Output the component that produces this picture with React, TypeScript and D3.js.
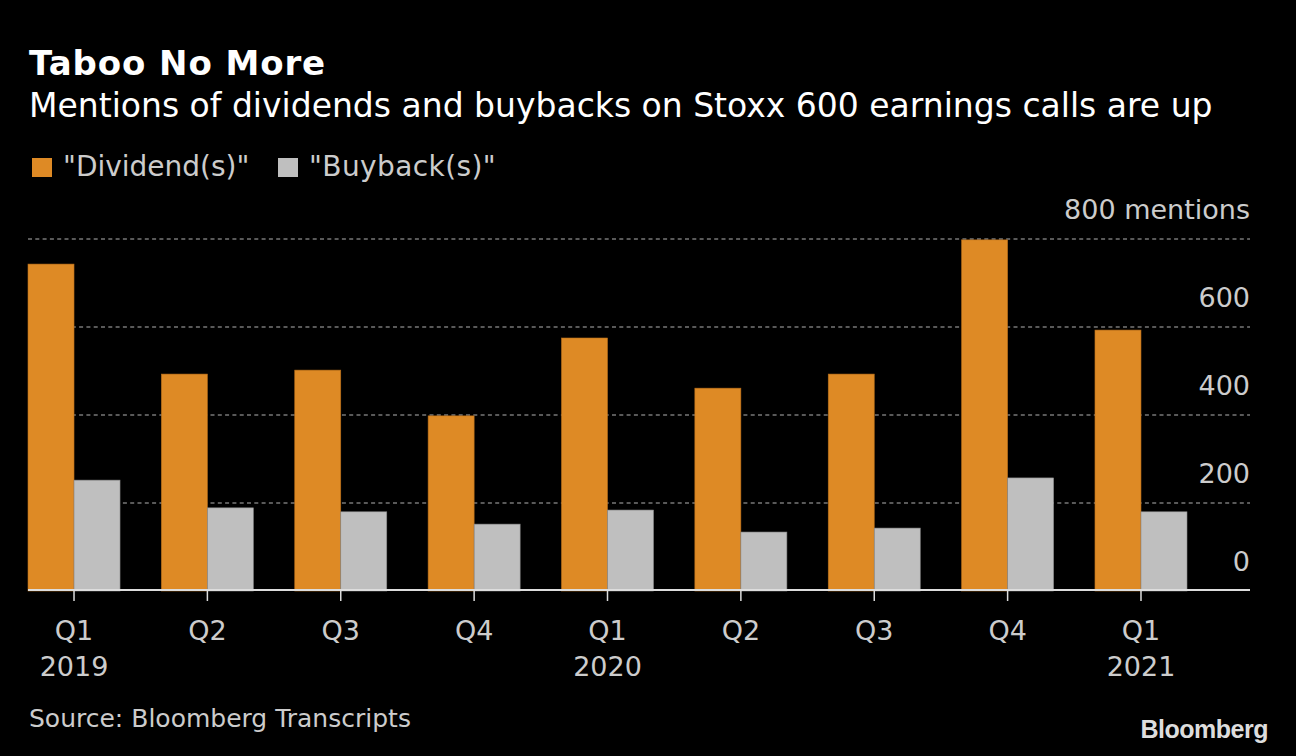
import React from "react";
import * as d3 from "d3";

const quarters = ["Q1", "Q2", "Q3", "Q4", "Q1", "Q2", "Q3", "Q4", "Q1"];
const years = ["2019", "", "", "", "2020", "", "", "", "2021"];
const dividends = [743, 493, 502, 398, 575, 461, 493, 798, 593];
const buybacks = [252, 189, 180, 152, 184, 134, 143, 257, 180];
const yTicks = [0, 200, 400, 600, 800];
const seriesNames = ['"Dividend(s)"', '"Buyback(s)"'];

const W = 1296;
const H = 756;
const FONT = "'DejaVu Sans', sans-serif";
const ORANGE = "#DE8A25";
const GRAY = "#BFBFBF";

export default function App() {
  if (typeof document !== "undefined") {
    document.body.style.margin = "0";
    document.body.style.background = "#000";
  }
  const idx = quarters.map((_, i) => String(i));
  const x = d3.scaleBand<string>().domain(idx).range([28, 1187]).paddingInner(0.31).paddingOuter(0);
  const y = d3.scaleLinear().domain([0, 800]).range([591, 239]);
  const bw = x.bandwidth() / 2;
  const left = 28;
  const right = 1250;

  return (
    <svg width={W} height={H} style={{ position: "absolute", left: 0, top: 0, background: "#000", fontFamily: FONT }}>
      <rect x={0} y={0} width={W} height={H} fill="#000" />
      <text x={29} y={75} fill="#fff" fontSize={34} fontWeight="bold" letterSpacing={0.9}>Taboo No More</text>
      <text x={29} y={117} fill="#fff" fontSize={33}>Mentions of dividends and buybacks on Stoxx 600 earnings calls are up</text>

      {/* legend */}
      <rect x={32} y={158} width={20} height={19} fill={ORANGE} />
      <text x={63} y={176} fill="#ccc" fontSize={28}>{seriesNames[0]}</text>
      <rect x={278} y={158} width={20} height={19} fill={GRAY} />
      <text x={309} y={176} fill="#ccc" fontSize={28} letterSpacing={0.4}>{seriesNames[1]}</text>

      {/* gridlines */}
      {yTicks.filter(t => t > 0).map(t => (
        <line key={t} x1={left} x2={right} y1={y(t)} y2={y(t)} stroke="#777" strokeWidth={1.5} strokeDasharray="4 3.3" />
      ))}
      {yTicks.map(t => (
        <text key={"l" + t} x={right} y={y(t) - 20} fill="#ccc" fontSize={27} textAnchor="end">
          {t === 800 ? "800 mentions" : String(t)}
        </text>
      ))}

      {/* bars */}
      {idx.map((k, i) => (
        <g key={"b" + k}>
          <rect x={x(k)!} y={y(dividends[i])} width={bw} height={y(0) - y(dividends[i])} fill={ORANGE} stroke="#B86E1A" strokeWidth={0.6} />
          <rect x={x(k)! + bw} y={y(buybacks[i])} width={bw} height={y(0) - y(buybacks[i])} fill={GRAY} stroke="#888" strokeWidth={0.6} />
        </g>
      ))}

      {/* baseline */}
      <line x1={left} x2={right} y1={590} y2={590} stroke="#ddd" strokeWidth={2} />

      {/* x axis */}
      {idx.map((k, i) => {
        const cx = x(k)! + x.bandwidth() / 2;
        return (
          <g key={"x" + k}>
            <line x1={cx} x2={cx} y1={591} y2={601} stroke="#ddd" strokeWidth={1.5} />
            <text x={cx} y={640} fill="#ccc" fontSize={27} textAnchor="middle">{quarters[i]}</text>
            {years[i] && (
              <text x={cx} y={676} fill="#ccc" fontSize={27} textAnchor="middle">{years[i]}</text>
            )}
          </g>
        );
      })}

      <text x={29} y={727} fill="#ccc" fontSize={25}>Source: Bloomberg Transcripts</text>
      <text x={1268} y={738} fill="#ddd" fontSize={25} fontWeight="bold" textAnchor="end" fontFamily="'Liberation Sans', Arial, sans-serif" letterSpacing={-0.5}>Bloomberg</text>
    </svg>
  );
}
